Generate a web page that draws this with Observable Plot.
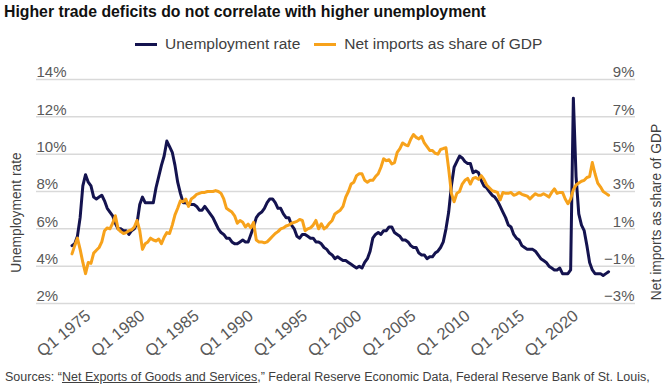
<!DOCTYPE html>
<html><head><meta charset="utf-8">
<script src="https://cdn.jsdelivr.net/npm/d3@7"></script>
<script src="https://cdn.jsdelivr.net/npm/@observablehq/plot@0.6"></script>
<style>
html,body{margin:0;padding:0;background:#fff;}
body{position:relative;width:665px;height:388px;overflow:hidden;font-family:"Liberation Sans",Arial,sans-serif;}
#title{position:absolute;left:4px;top:0;height:23px;line-height:23px;font-weight:bold;font-size:15.8px;color:#111;white-space:nowrap;}
#legend{position:absolute;left:135px;top:33px;height:22px;line-height:22px;font-size:15.5px;color:#404040;white-space:nowrap;display:flex;align-items:center;}
#legend .sw{display:inline-block;width:22px;height:3px;margin-right:8px;}
#legend .item{display:flex;align-items:center;margin-right:14px;}
#chart{position:absolute;left:0;top:55px;}
#caption{position:absolute;left:5px;top:369px;height:16px;line-height:16px;font-size:12.5px;color:#404040;white-space:nowrap;}
#caption u{text-decoration:underline;}
</style>
</head><body>
<div id="title"></div>
<div id="legend"></div>
<div id="chart"></div>
<div id="caption">Sources: “<u>Net Exports of Goods and Services</u>,” Federal Reserve Economic Data, Federal Reserve Bank of St. Louis,</div>
<script>
const titleText = "Higher trade deficits do not correlate with higher unemployment";
const seriesNames = ["Unemployment rate", "Net imports as share of GDP"];
const seriesColors = ["#14134f", "#f7a21b"];
const startYear = 1974; // first quarter: Q1 1974, quarterly data
const unemployment = [
  5.1, 5.2, 5.6, 6.6,   8.3, 8.9, 8.5, 8.3,   7.7, 7.6, 7.7, 7.8,   7.5, 7.1, 6.9, 6.7,
  6.3, 6.0, 6.0, 5.9,   5.9, 5.7, 5.9, 6.0,   6.3, 7.3, 7.7, 7.4,   7.4, 7.4, 7.4, 8.2,
  8.8, 9.4, 9.9, 10.7,  10.4, 10.1, 9.4, 8.5, 7.9, 7.4, 7.4, 7.3,   7.3, 7.3, 7.2, 7.0,
  7.0, 7.2, 7.0, 6.8,   6.6, 6.3, 6.0, 5.8,   5.7, 5.5, 5.5, 5.3,   5.2, 5.2, 5.3, 5.4,
  5.3, 5.3, 5.7, 6.1,   6.6, 6.8, 6.9, 7.1,   7.4, 7.6, 7.6, 7.4,   7.1, 7.1, 6.8, 6.6,
  6.6, 6.2, 6.0, 5.6,   5.5, 5.7, 5.7, 5.6,   5.5, 5.5, 5.3, 5.3,   5.2, 5.0, 4.9, 4.7,
  4.6, 4.4, 4.5, 4.4,   4.3, 4.3, 4.2, 4.1,   4.0, 3.9, 4.0, 3.9,   4.2, 4.4, 4.8, 5.5,
  5.7, 5.8, 5.7, 5.9,   5.9, 6.1, 6.1, 5.8,   5.7, 5.6, 5.4, 5.4,   5.3, 5.1, 5.0, 5.0,
  4.7, 4.6, 4.6, 4.4,   4.5, 4.5, 4.7, 4.8,   5.0, 5.3, 6.0, 6.9,   8.3, 9.3, 9.6, 9.9,
  9.8, 9.6, 9.5, 9.5,   9.0, 9.1, 9.0, 8.6,   8.3, 8.2, 8.0, 7.8,   7.7, 7.5, 7.2, 6.9,
  6.6, 6.2, 6.1, 5.7,   5.5, 5.4, 5.1, 5.0,   4.9, 4.9, 4.9, 4.8,   4.6, 4.4, 4.3, 4.2,
  4.0, 3.9, 3.8, 3.8,   3.9, 3.6, 3.6, 3.6,   3.8, 13.0, 8.8, 6.8,  6.2, 5.9, 5.1, 4.2,
  3.8, 3.6, 3.6, 3.6,   3.5, 3.6, 3.7
];
const netImports = [
  -0.34, 0.1, 0.5, -0.1,  -0.8, -1.4, -0.8, -0.85,  -0.3, -0.15, 0.0, 0.3,  0.9, 1.05, 1.0, 1.3,
  1.7, 1.0, 0.85, 0.75,   0.8, 0.9, 0.95, 1.1,    1.45, 0.9, -0.1, 0.2,    0.3, 0.5, 0.4, 0.35,
  0.45, 0.2, 0.55, 0.8,   0.75, 1.2, 1.75, 2.1,   2.5, 2.45, 2.6, 2.2,     2.6, 2.7, 2.85, 2.9,
  2.95, 2.95, 3.0, 3.0,   3.0, 3.05, 3.0, 2.9,    2.6, 2.1, 2.0, 1.9,      1.7, 1.3, 1.45, 1.35,
  1.1, 1.25, 1.05, 1.35,  0.4, 0.3, 0.3, 0.25,    0.3, 0.45, 0.6, 0.75,    0.85, 1.0, 1.05, 1.15,
  1.2, 1.3, 1.35, 1.4,    1.5, 1.45, 0.9, 1.0,    1.05, 1.2, 1.45, 1.0,    1.27, 1.0, 1.1, 1.3,
  1.45, 1.8, 1.9, 2.0,    2.2, 2.7, 3.0, 3.4,     3.5, 3.85, 3.95, 3.95,   3.6, 3.5, 3.6, 3.6,
  3.8, 3.95, 4.3, 4.75,   4.65, 4.7, 4.48, 4.55,  5.1, 5.3, 5.6, 5.5,      5.45, 5.8, 6.05, 5.9,
  5.82, 5.95, 5.6, 5.4,   5.2, 5.2, 5.05, 5.0,    5.25, 5.3, 5.34, 4.2,    2.9, 2.45, 2.9, 3.0,
  3.4, 3.6, 3.7, 3.4,     3.7, 3.75, 3.65, 3.85,  3.65, 3.35, 3.2, 3.05,   3.0, 2.95, 2.55, 2.95,
  2.9, 2.9, 2.95, 2.8,    2.85, 2.95, 2.85, 2.8,  2.75, 2.6, 2.75, 2.88,   2.8, 2.8, 2.88, 2.8,
  2.7, 2.95, 3.14, 2.9,   2.95, 2.95, 2.6, 2.35,  2.6, 3.1, 3.35, 3.45,    3.55, 3.6, 3.75, 3.8,
  4.55, 3.95, 3.45, 3.25, 3.0, 2.9, 2.8
];
const xTickYears = [1975, 1980, 1985, 1990, 1995, 2000, 2005, 2010, 2015, 2020];
const leftTicks = [2, 4, 6, 8, 10, 12, 14];
const rightTicks = [-3, -1, 1, 3, 5, 7, 9];
const rightOffset = 5; // right axis value r sits at left value r + 5
const axisTitles = ["Unemployment rate", "Net imports as share of GDP"];

document.getElementById("title").textContent = titleText;
const legend = document.getElementById("legend");
seriesNames.forEach((n, i) => {
  const it = document.createElement("span"); it.className = "item";
  const sw = document.createElement("span"); sw.className = "sw"; sw.style.background = seriesColors[i];
  const tx = document.createElement("span"); tx.textContent = n;
  it.appendChild(sw); it.appendChild(tx); legend.appendChild(it);
});

const table = unemployment.map((u, i) => ({t: startYear + i / 4, u, n: netImports[i]}));
const minus = v => (v < 0 ? "\u2212" + Math.abs(v) : String(v)) + "%";

const chart = Plot.plot({
  width: 665, height: 313,
  marginTop: 24, marginBottom: 65, marginLeft: 36, marginRight: 30,
  style: {fontFamily: "'Liberation Sans', Arial, sans-serif", fontSize: "15px", color: "#595959", background: "transparent", overflow: "visible"},
  x: {domain: [1970.725, 2025.983]},
  y: {domain: [2, 14]},
  marks: [
    Plot.ruleY(leftTicks, {stroke: "#d9d9d9", strokeWidth: 1.5}),
    Plot.axisY(leftTicks, {anchor: "left", tickSize: 0, tickPadding: 0, textAnchor: "start", dy: -7, tickFormat: d => d + "%", label: null}),
    Plot.axisY(rightTicks.map(r => r + rightOffset), {anchor: "right", tickSize: 0, tickPadding: 0, textAnchor: "end", dx: -1, dy: -7, tickFormat: d => minus(d - rightOffset), label: null}),
    Plot.axisX(xTickYears, {anchor: "bottom", tickSize: 0, tickPadding: 0, tickRotate: -39, textAnchor: "end", lineAnchor: "middle", dx: 5.5, dy: 10, fontSize: 16.5, tickFormat: d => "Q1 " + d, label: null}),
    Plot.text([axisTitles[0]], {frameAnchor: "left", textAnchor: "middle", dx: -20, dy: 21, rotate: -90, fontSize: 13.8, fill: "#404040"}),
    Plot.text([axisTitles[1]], {frameAnchor: "right", textAnchor: "middle", dx: 21.5, dy: 20.5, rotate: -90, fontSize: 13.8, fill: "#404040"}),
    Plot.line(table, {x: "t", y: "u", stroke: seriesColors[0], strokeWidth: 3}),
    Plot.line(table, {x: "t", y: d => d.n + rightOffset, stroke: seriesColors[1], strokeWidth: 3})
  ]
});
document.getElementById("chart").appendChild(chart);
</script>
</body></html>
